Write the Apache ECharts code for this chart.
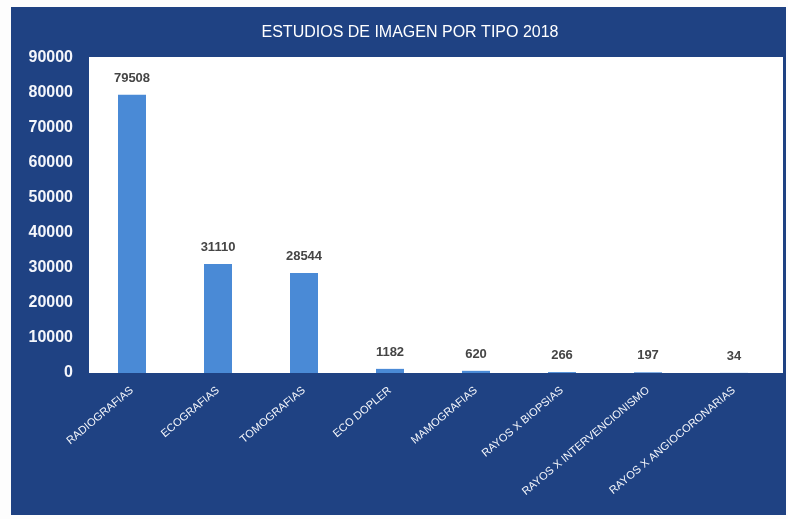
<!DOCTYPE html>
<html>
<head>
<meta charset="utf-8">
<script src="https://cdn.jsdelivr.net/npm/echarts@6/dist/echarts.min.js"></script>
<style>
  html, body { margin: 0; padding: 0; background: #fdfdfd; }
  #chart { position: absolute; left: 11px; top: 7px; width: 775px; height: 508px; }
</style>
</head>
<body>
<div id="chart"></div>
<script>
// === DATOS ===
const titulo = 'ESTUDIOS DE IMAGEN POR TIPO 2018';
const categorias = [
    'RADIOGRAFIAS', 'ECOGRAFIAS', 'TOMOGRAFIAS', 'ECO DOPLER',
    'MAMOGRAFIAS', 'RAYOS X BIOPSIAS', 'RAYOS X INTERVENCIONISMO', 'RAYOS X ANGIOCORONARIAS'
];
const valores = [79508, 31110, 28544, 1182, 620, 266, 197, 34];
const ejeMax = 90000;
const ejeIntervalo = 10000;

// === COLORES ===
const fondo = '#1f4283';
const colorBarra = '#4a8ad6';

// === RENDER ===
const chart = echarts.init(document.getElementById('chart'));
chart.setOption({
    backgroundColor: fondo,
    animation: false,
    title: {
        text: titulo,
        left: 394,
        textAlign: 'center',
        top: 13,
        textStyle: { color: '#ffffff', fontSize: 16, fontWeight: 'normal', fontFamily: 'Liberation Sans' }
    },
    graphic: [{
        type: 'rect',
        silent: true,
        z: -10,
        shape: { x: 78, y: 50, width: 694, height: 316 },
        style: { fill: '#ffffff' }
    }],
    grid: { left: 78, right: 9, top: 51, bottom: 142 },
    xAxis: {
        type: 'category',
        data: categorias,
        axisLine: { show: false },
        axisTick: { show: false },
        axisLabel: {
            rotate: 40,
            interval: 0,
            margin: 16,
            color: '#f4f6fb',
            fontSize: 11,
            fontFamily: 'Liberation Sans'
        }
    },
    yAxis: {
        type: 'value',
        min: 0,
        max: ejeMax,
        interval: ejeIntervalo,
        axisLine: { show: false },
        axisTick: { show: false },
        splitLine: { show: false },
        axisLabel: {
            margin: 16,
            color: '#f4f6fb',
            fontSize: 16,
            fontWeight: 'bold',
            fontFamily: 'Liberation Sans',
            formatter: v => String(v)
        }
    },
    series: [{
        type: 'bar',
        data: valores,
        barWidth: 28,
        itemStyle: { color: colorBarra },
        label: {
            show: true,
            position: 'top',
            distance: 10,
            color: '#454545',
            fontSize: 13,
            fontWeight: 'bold',
            fontFamily: 'Liberation Sans'
        }
    }]
});
</script>
</body>
</html>
